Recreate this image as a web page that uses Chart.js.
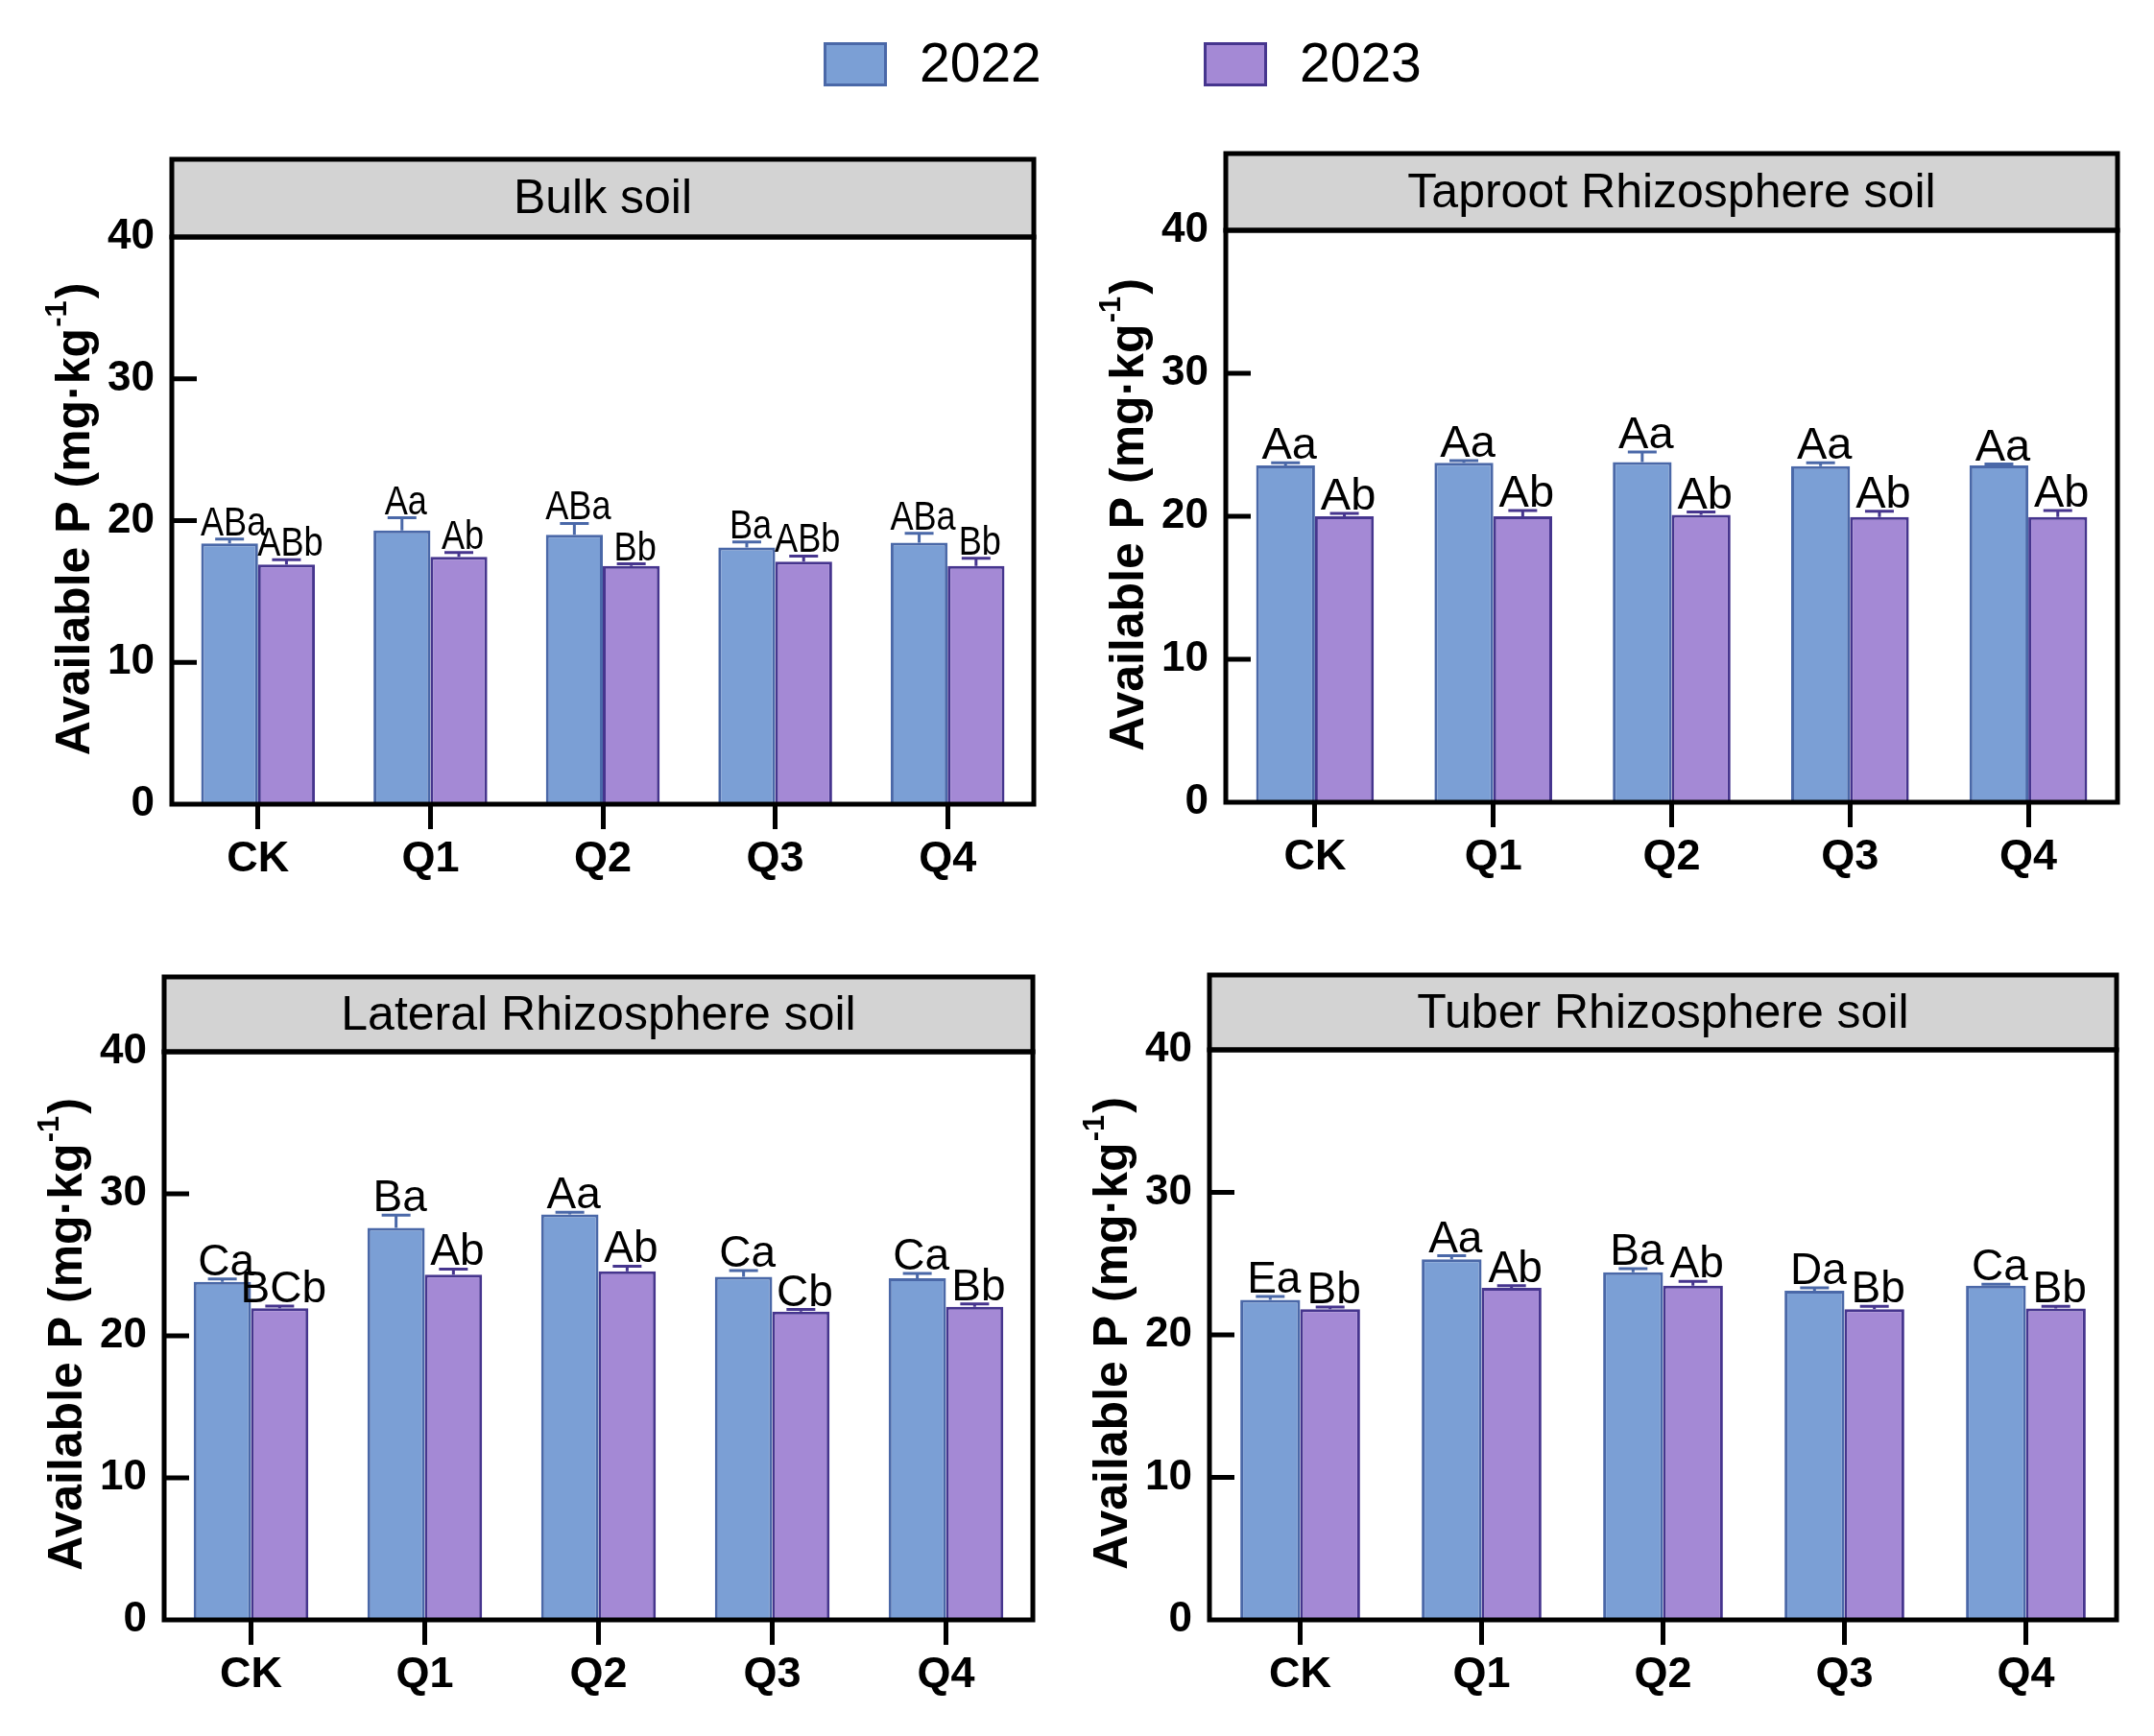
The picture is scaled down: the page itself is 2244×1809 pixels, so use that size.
<!DOCTYPE html>
<html>
<head>
<meta charset="utf-8">
<script src="https://cdn.jsdelivr.net/npm/chart.js@4.4.1/dist/chart.umd.min.js"></script>
<style>
  html, body { margin: 0; padding: 0; background: #fff; }
  #page { position: relative; width: 2244px; height: 1809px; overflow: hidden; font-family: 'Liberation Sans', Arial, sans-serif; }
  canvas { position: absolute; }
  .leg-box { position: absolute; width: 60px; height: 40px; border: 3px solid; box-sizing: content-box; }
  .leg-text { position: absolute; font-size: 57px; line-height: 57px; color: #000; }
</style>
</head>
<body>
<div id="page">
  <div id="legend"></div>
  <canvas id="bulk" width="1110" height="820" style="left:0px;top:140px"></canvas>
  <canvas id="taproot" width="1134" height="820" style="left:1110px;top:140px"></canvas>
  <canvas id="lateral" width="1110" height="819" style="left:0px;top:990px"></canvas>
  <canvas id="tuber" width="1134" height="819" style="left:1110px;top:990px"></canvas>
</div>
<script>
// categories and series
const treatments = ['CK', 'Q1', 'Q2', 'Q3', 'Q4'];
const years = ['2022', '2023'];
const yTicks = [0, 10, 20, 30, 40];

// Bulk soil
const bulk2022 = [18.4, 19.3, 19.0, 18.1, 18.45];
const bulk2022Err = [0.3, 0.9, 0.8, 0.4, 0.65];
const bulk2023 = [16.9, 17.45, 16.8, 17.1, 16.8];
const bulk2023Err = [0.35, 0.3, 0.15, 0.4, 0.55];
const bulk2022Sig = ['ABa', 'Aa', 'ABa', 'Ba', 'ABa'];
const bulk2023Sig = ['ABb', 'Ab', 'Bb', 'ABb', 'Bb'];

// Taproot Rhizosphere soil
const taproot2022 = [23.55, 23.75, 23.8, 23.5, 23.55];
const taproot2022Err = [0.2, 0.15, 0.7, 0.25, 0.1];
const taproot2023 = [20.0, 20.0, 20.1, 19.95, 19.95];
const taproot2023Err = [0.2, 0.4, 0.2, 0.4, 0.45];
const taproot2022Sig = ['Aa', 'Aa', 'Aa', 'Aa', 'Aa'];
const taproot2023Sig = ['Ab', 'Ab', 'Ab', 'Ab', 'Ab'];

// Lateral Rhizosphere soil
const lateral2022 = [23.8, 27.6, 28.55, 24.15, 24.05];
const lateral2022Err = [0.2, 0.9, 0.15, 0.45, 0.35];
const lateral2023 = [21.95, 24.3, 24.55, 21.7, 22.05];
const lateral2023Err = [0.15, 0.4, 0.35, 0.15, 0.2];
const lateral2022Sig = ['Ca', 'Ba', 'Aa', 'Ca', 'Ca'];
const lateral2023Sig = ['BCb', 'Ab', 'Ab', 'Cb', 'Bb'];

// Tuber Rhizosphere soil
const tuber2022 = [22.45, 25.3, 24.4, 23.1, 23.45];
const tuber2022Err = [0.25, 0.25, 0.25, 0.2, 0.1];
const tuber2023 = [21.8, 23.3, 23.45, 21.8, 21.85];
const tuber2023Err = [0.15, 0.15, 0.3, 0.2, 0.15];
const tuber2022Sig = ['Ea', 'Aa', 'Ba', 'Da', 'Ca'];
const tuber2023Sig = ['Bb', 'Ab', 'Ab', 'Bb', 'Bb'];

const fillColors = ['#7b9fd5', '#a489d5'];
const edgeColors = ['#4a68a8', '#46358e'];
const FONT = "'Liberation Sans', Arial, sans-serif";

// legend (html, built from the series)
const legend = document.getElementById('legend');
const legendX = [858, 1254];
years.forEach((yr, i) => {
    const box = document.createElement('div');
    box.className = 'leg-box';
    box.style.left = legendX[i] + 'px';
    box.style.top = '44px';
    box.style.background = fillColors[i];
    box.style.borderColor = edgeColors[i];
    legend.appendChild(box);
    const txt = document.createElement('div');
    txt.className = 'leg-text';
    txt.style.left = (legendX[i] + 100) + 'px';
    txt.style.top = '37px';
    txt.textContent = yr;
    legend.appendChild(txt);
});

// error bars + letters, header strip, frame, inner y ticks, y title
const panelDeco = {
    id: 'panelDeco',
    afterDatasetsDraw(chart, args, opts) {
        const ctx = chart.ctx;
        const yScale = chart.scales.y;
        chart.data.datasets.forEach((ds, di) => {
            const meta = chart.getDatasetMeta(di);
            meta.data.forEach((bar, i) => {
                const top = yScale.getPixelForValue(ds.data[i] + ds.err[i]);
                ctx.save();
                ctx.strokeStyle = edgeColors[di];
                ctx.lineWidth = 3;
                ctx.beginPath();
                ctx.moveTo(bar.x, bar.y);
                ctx.lineTo(bar.x, top);
                ctx.moveTo(bar.x - 15, top);
                ctx.lineTo(bar.x + 15, top);
                ctx.stroke();
                // significance letters (optionally a bit condensed)
                ctx.translate(bar.x + 4, top - 4);
                ctx.scale(opts.sigStretch, 1);
                ctx.fillStyle = '#000';
                ctx.font = opts.sigSize + 'px ' + FONT;
                ctx.textAlign = 'center';
                ctx.textBaseline = 'alphabetic';
                ctx.fillText(ds.sig[i], 0, 0);
                ctx.restore();
            });
        });
    },
    afterDraw(chart, args, opts) {
        const ctx = chart.ctx;
        const a = chart.chartArea;
        const yScale = chart.scales.y;
        ctx.save();
        // header
        const hTop = a.top - opts.headerH;
        ctx.fillStyle = '#d3d3d3';
        ctx.fillRect(a.left, hTop, a.right - a.left, opts.headerH);
        ctx.lineWidth = 5;
        ctx.strokeStyle = '#000';
        ctx.strokeRect(a.left, hTop, a.right - a.left, opts.headerH);
        ctx.fillStyle = '#000';
        ctx.font = '50px ' + FONT;
        ctx.textAlign = 'center';
        ctx.textBaseline = 'middle';
        ctx.fillText(opts.title, (a.left + a.right) / 2, hTop + opts.headerH / 2 + 2);
        // frame
        ctx.strokeRect(a.left, a.top, a.right - a.left, a.bottom - a.top);
        // inward y ticks
        yScale.ticks.forEach(t => {
            if (t.value > yScale.min && t.value < yScale.max) {
                const py = yScale.getPixelForValue(t.value);
                ctx.beginPath();
                ctx.moveTo(a.left, py);
                ctx.lineTo(a.left + 26, py);
                ctx.stroke();
            }
        });
        // y title with superscript
        const cx = a.left - opts.titleOffset;
        const cy = (a.top + a.bottom) / 2;
        ctx.translate(cx, cy);
        ctx.rotate(-Math.PI / 2);
        const mainFont = 'bold 50px ' + FONT;
        const supFont = 'bold 31px ' + FONT;
        const p1 = 'Available P (mg·kg', p2 = '-1', p3 = ')';
        ctx.font = mainFont;
        const w1 = ctx.measureText(p1).width, w3 = ctx.measureText(p3).width;
        ctx.font = supFont;
        const w2 = ctx.measureText(p2).width;
        let sx = -(w1 + w2 + w3) / 2;
        ctx.textAlign = 'left';
        ctx.textBaseline = 'middle';
        ctx.font = mainFont;
        ctx.fillText(p1, sx, 0);
        ctx.font = supFont;
        ctx.fillText(p2, sx + w1 + 1, -19);
        ctx.font = mainFont;
        ctx.fillText(p3, sx + w1 + w2 + 3, 0);
        ctx.restore();
    }
};

function makePanel(id, title, v22, e22, s22, v23, e23, s23, box, sigSize, sigStretch) {
    const canvas = document.getElementById(id);
    // box: page coords of the plot area
    const offX = parseInt(canvas.style.left), offY = parseInt(canvas.style.top);
    const yWidth = box.left - offX;
    const padTop = box.top - offY;
    const padRight = offX + canvas.width - box.right;
    const xHeight = offY + canvas.height - box.bottom;

    return new Chart(canvas, {
        type: 'bar',
        data: {
            labels: treatments,
            datasets: [
                { label: years[0], data: v22, err: e22, sig: s22,
                  backgroundColor: fillColors[0], borderColor: edgeColors[0], borderWidth: 3,
                  categoryPercentage: 0.66, barPercentage: 1.0 },
                { label: years[1], data: v23, err: e23, sig: s23,
                  backgroundColor: fillColors[1], borderColor: edgeColors[1], borderWidth: 3,
                  categoryPercentage: 0.66, barPercentage: 1.0 }
            ]
        },
        options: {
            responsive: false,
            animation: false,
            devicePixelRatio: 1,
            layout: { padding: { left: 0, top: padTop, right: padRight, bottom: 0 } },
            plugins: {
                legend: { display: false },
                tooltip: { enabled: false },
                panelDeco: { title: title, headerH: box.top - box.headerTop, titleOffset: 100,
                             sigSize: sigSize, sigStretch: sigStretch }
            },
            scales: {
                x: {
                    offset: true,
                    grid: { offset: false, drawOnChartArea: false, drawTicks: true, tickLength: 26, tickWidth: 5, tickColor: '#000' },
                    border: { display: false },
                    ticks: { color: '#000', padding: 5, font: { family: FONT, size: 45, weight: 'bold' } },
                    afterFit: s => { s.height = xHeight; }
                },
                y: {
                    min: yTicks[0],
                    max: yTicks[yTicks.length - 1],
                    afterBuildTicks: s => { s.ticks = yTicks.map(v => ({ value: v })); },
                    grid: { display: false },
                    border: { display: false },
                    ticks: { color: '#000', padding: 10, font: { family: FONT, size: 44, weight: 'bold' } },
                    afterFit: s => { s.width = yWidth; }
                }
            }
        },
        plugins: [panelDeco]
    });
}

makePanel('bulk', 'Bulk soil', bulk2022, bulk2022Err, bulk2022Sig, bulk2023, bulk2023Err, bulk2023Sig,
    { left: 179, right: 1077, top: 247, bottom: 838, headerTop: 166 }, 42, 0.86);
makePanel('taproot', 'Taproot Rhizosphere soil', taproot2022, taproot2022Err, taproot2022Sig, taproot2023, taproot2023Err, taproot2023Sig,
    { left: 1277, right: 2206, top: 240, bottom: 836, headerTop: 160 }, 47, 1);
makePanel('lateral', 'Lateral Rhizosphere soil', lateral2022, lateral2022Err, lateral2022Sig, lateral2023, lateral2023Err, lateral2023Sig,
    { left: 171, right: 1076, top: 1096, bottom: 1688, headerTop: 1018 }, 46, 1);
makePanel('tuber', 'Tuber Rhizosphere soil', tuber2022, tuber2022Err, tuber2022Sig, tuber2023, tuber2023Err, tuber2023Sig,
    { left: 1260, right: 2205, top: 1094, bottom: 1688, headerTop: 1016 }, 46, 1);
</script>
</body>
</html>
